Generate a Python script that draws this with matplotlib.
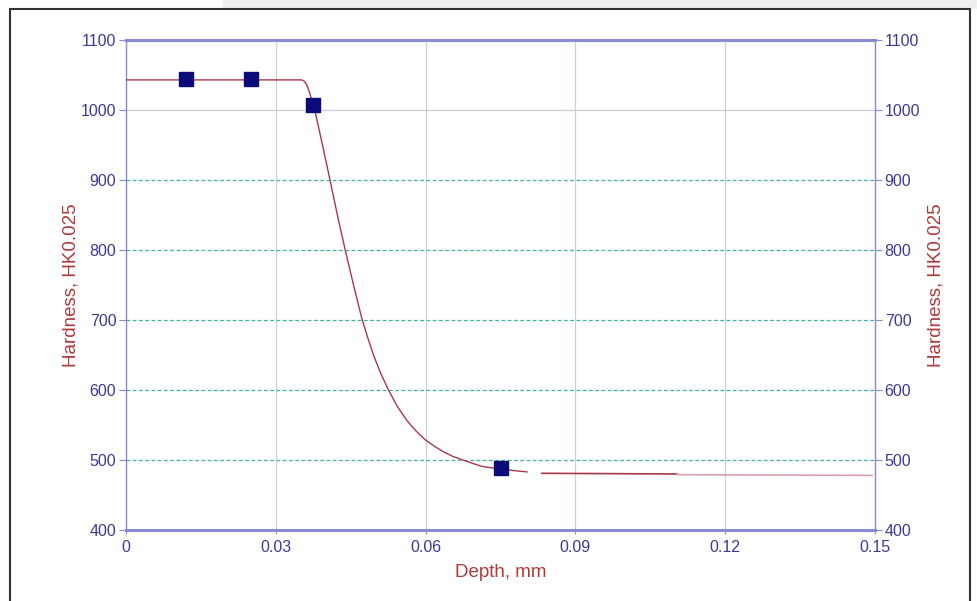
import numpy as np
import matplotlib
matplotlib.use("Agg")
from matplotlib import pyplot
from matplotlib.patches import Rectangle

pyplot.rcParams['font.family'] = ['Liberation Sans', 'DejaVu Sans']

# measured hardness points
depth_pts = [0.012, 0.025, 0.0375, 0.075]
hard_pts = [1044, 1044, 1007, 488]

# fitted profile, first part
curve_x = [0.0, 0.0352, 0.0357, 0.0362, 0.0368, 0.0378, 0.0392, 0.0408,
           0.0423, 0.0439, 0.0455, 0.0472, 0.0484, 0.0495, 0.0510, 0.0525,
           0.0543, 0.0562, 0.0580, 0.0599, 0.0617, 0.0635, 0.0655, 0.0675,
           0.0695, 0.0712, 0.0730, 0.0749, 0.0775, 0.0803]
curve_y = [1043, 1043, 1041, 1036, 1024, 1000, 955, 902,
           851, 800, 752, 703, 675, 651, 624, 601,
           577, 557, 542, 529, 520, 512, 505, 500,
           495, 491, 489, 488, 485, 483]

# core hardness, after the gap
core_x = [0.0833, 0.1103]
core_y = [481, 480]
core2_x = [0.1103, 0.1494]
core2_y = [479, 478]

yticks = [400, 500, 600, 700, 800, 900, 1000, 1100]
xticks = [0, 0.03, 0.06, 0.09, 0.12, 0.15]
xtick_labels = ['0', '0.03', '0.06', '0.09', '0.12', '0.15']

tick_col = '#3a3a96'
label_col = '#b03838'
spine_col = '#8a8ad2'
line_col = '#a83848'

fig = pyplot.figure(figsize=(9.77, 6.01), dpi=100)

# outer frame and grey strip above it
fig.patches.append(Rectangle((223 / 977, 1 - 9 / 601), 1, 9 / 601, transform=fig.transFigure,
                             facecolor='#f0f0f0', edgecolor='none', zorder=0))
fig.patches.append(Rectangle((10 / 977, -0.05), 960 / 977, 1.05 - 9 / 601, transform=fig.transFigure,
                             facecolor='none', edgecolor='#333333', lw=1.5, zorder=1))

ax = fig.add_axes([126 / 977, 1 - 530 / 601, 749 / 977, 490 / 601])
ax.set_xlim(0, 0.15)
ax.set_ylim(400, 1100)

ax.plot(curve_x, curve_y, color=line_col, lw=1.0, zorder=3)
ax.plot(core_x, core_y, color=line_col, lw=1.2, zorder=3)
ax.plot(core2_x, core2_y, color='#d8a0a8', lw=1.2, zorder=3)
ax.plot(depth_pts, hard_pts, ls='none', marker='s', ms=9.5, color='#0a0a78', zorder=4)

ax.set_xticks(xticks)
ax.set_xticklabels(xtick_labels)
ax.set_yticks(yticks)

# grid
ax.xaxis.grid(True, color='#c8d0dc', lw=0.9)
ax.yaxis.grid(True, color='#3cb4a0', lw=0.9, ls=(0, (3, 2)))
for val, gl in zip(yticks, ax.get_ygridlines()):
    if val == 1000:
        gl.set_color('#c8ccd4')
        gl.set_linestyle('-')
ax.set_axisbelow(True)

for side in ['left', 'right']:
    ax.spines[side].set_color(spine_col)
    ax.spines[side].set_linewidth(1.0)
for side in ['top', 'bottom']:
    ax.spines[side].set_color(spine_col)
    ax.spines[side].set_linewidth(2.2)

ax.tick_params(axis='y', direction='out', length=5, width=0.8, color=spine_col,
               labelcolor=tick_col, labelsize=11.5, pad=2)
ax.tick_params(axis='x', direction='out', length=3, width=0.8, color=spine_col,
               labelcolor=tick_col, labelsize=11.5, pad=4)

ax.set_xlabel('Depth, mm', color=label_col, fontsize=13.5, labelpad=7)
ax.set_ylabel('Hardness, HK0.025', color=label_col, fontsize=13.5, labelpad=1)

# right hand axis
ax2 = ax.twinx()
ax2.set_ylim(400, 1100)
ax2.set_yticks(yticks)
for sp in ax2.spines.values():
    sp.set_visible(False)
ax2.tick_params(axis='y', direction='out', length=5, width=0.8, color=spine_col,
                labelcolor=tick_col, labelsize=11.5, pad=2)
ax2.set_ylabel('Hardness, HK0.025', color=label_col, fontsize=13.5, labelpad=5)

pyplot.savefig('out.png', dpi=100)
